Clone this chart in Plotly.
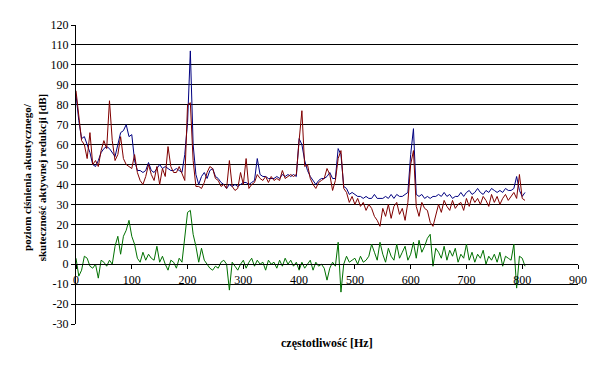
import plotly.graph_objects as go

freq = list(range(0, 806, 5))

blue = [85, 72, 63, 64, 60, 56, 50, 49, 52, 56,
        58, 59, 58, 56, 54, 60, 66, 67, 70, 64,
        65, 52, 47, 47, 46, 47, 51, 47, 46, 48,
        50, 48, 49, 48, 47, 47, 48, 47, 46, 55,
        71, 107, 60, 45, 40, 44, 46, 43, 47, 48,
        44, 43, 41, 40, 38, 40, 39, 40, 39, 40,
        41, 41, 40, 41, 42, 53, 45, 44, 44, 43,
        43, 43, 44, 43, 45, 44, 45, 44, 45, 44,
        63, 60, 52, 47, 44, 42, 40, 42, 43, 43,
        44, 46, 43, 43, 58, 55, 39, 38, 35, 36,
        35, 34, 34, 33, 34, 33, 33, 35, 33, 33,
        33, 34, 33, 35, 33, 35, 34, 34, 35, 36,
        55, 68, 35, 34, 35, 33, 34, 33, 34, 34,
        35, 34, 36, 34, 35, 33, 34, 34, 36, 34,
        36, 37, 35, 36, 38, 36, 35, 37, 36, 38,
        37, 36, 37, 36, 38, 37, 37, 38, 44, 37,
        34, 36]

red = [87, 73, 62, 60, 53, 66, 50, 52, 49, 57,
       62, 58, 82, 62, 52, 55, 64, 53, 50, 49,
       48, 55, 46, 42, 40, 44, 50, 45, 42, 49,
       40, 48, 44, 59, 49, 46, 46, 49, 45, 42,
       80, 81, 52, 39, 39, 38, 41, 46, 49, 48,
       43, 42, 39, 40, 38, 52, 39, 37, 38, 46,
       40, 53, 38, 40, 41, 45, 43, 42, 44, 41,
       44, 42, 43, 42, 47, 43, 44, 45, 44, 45,
       62, 77, 49, 50, 43, 40, 38, 41, 42, 43,
       48, 45, 37, 42, 53, 57, 38, 36, 31, 34,
       30, 33, 29, 31, 27, 30, 28, 24, 22, 19,
       28, 24, 30, 23, 29, 31, 25, 28, 22, 31,
       50, 57, 29, 24, 31, 28, 27, 21, 19, 25,
       30, 26, 32, 29, 27, 32, 28, 30, 31, 27,
       33, 29, 34, 31, 33, 30, 34, 32, 29, 35,
       31, 34, 30, 33, 35, 32, 34, 36, 33, 45,
       33, 32]

green = [3, -6, -3, 4, 3, -1, -2, 0, -7, 2,
         1, -1, 2, 0, 9, 14, 5, 14, 17, 22,
         14, 10, 3, 1, 6, 2, 5, 3, 2, 9,
         1, 4, 0, -3, 2, 1, -2, 3, 1, 15,
         26, 27, 15, 9, 1, 8, 2, 0, -2, -3,
         -1, -2, 1, 2, 0, -13, 1, -1, -3, 0,
         2, -2, 1, 3, -1, 2, 0, 1, -3, 2,
         0, 1, -2, 2, -1, 3, 0, 2, -1, 1,
         -3, 1, -2, 0, 2, -3, 1, -1, 0, -2,
         -8, -2, 1, -1, 11, -14, 0, 4, 1, 2,
         3, 0, 4, 1, 2, 4, 10, 6, 2, 11,
         5, 1, 8, 4, 2, 10, 3, 6, 9, 2,
         5, 11, 3, 12, 6, 9, 13, 15, -1, 8,
         6, 3, 9, 2, 7, 4, 8, 1, 5, 3,
         10, 2, 6, 1, 5, 3, 7, 0, 4, 2,
         5, 1, 6, -1, 4, 3, 2, 10, -12, 4,
         3, -1]

x_ticks = list(range(0, 901, 100))
y_ticks = list(range(-30, 121, 10))
grid_vals = list(range(-20, 111, 10))

x_title = "częstotliwość [Hz]"
y_title = "poziom ciśnienia akustycznego/<br>skuteczność aktywnej redukcji [dB]"

FONT = "Liberation Serif, Times New Roman, serif"

fig = go.Figure()
fig.add_trace(go.Scatter(x=freq, y=green, mode="lines",
                         line=dict(color="#007000", width=1), showlegend=False))
fig.add_trace(go.Scatter(x=freq, y=blue, mode="lines",
                         line=dict(color="#000080", width=1), showlegend=False))
fig.add_trace(go.Scatter(x=freq, y=red, mode="lines",
                         line=dict(color="#800000", width=1), showlegend=False))
fig.add_trace(go.Scatter(x=[None], y=[None], yaxis="y2", showlegend=False, hoverinfo="skip"))

yr = [-30, 120]
zero_pos = (0 - yr[0]) / (yr[1] - yr[0])

fig.update_layout(
    width=604, height=368,
    margin=dict(l=76, r=26, t=25, b=44, autoexpand=False),
    paper_bgcolor="white", plot_bgcolor="white",
    font=dict(family=FONT, size=12, color="black"),
    showlegend=False,
    xaxis=dict(range=[0, 900], tickvals=x_ticks, ticktext=[str(v) for v in x_ticks],
               showgrid=False, zeroline=False, showline=True, linecolor="black",
               linewidth=1, ticks="outside", ticklen=4, tickcolor="black",
               anchor="free", position=zero_pos, automargin=False,
               tickfont=dict(family=FONT, size=12, color="black")),
    yaxis=dict(range=yr, tickvals=y_ticks, ticktext=[str(v) for v in y_ticks],
               showgrid=False, zeroline=False, showline=True, linecolor="black",
               linewidth=1, ticks="outside", ticklen=4, tickcolor="black",
               automargin=False,
               tickfont=dict(family=FONT, size=12, color="black")),
    yaxis2=dict(range=yr, overlaying="y", tickvals=grid_vals, showticklabels=False,
                showgrid=True, gridcolor="black", gridwidth=1, zeroline=False,
                showline=False, ticks="", automargin=False),
    annotations=[
        dict(text="<b>" + x_title + "</b>", xref="paper", yref="paper",
             x=0.5, y=-0.064, xanchor="center", yanchor="middle", showarrow=False,
             font=dict(family=FONT, size=12, color="black")),
        dict(text="<b>" + y_title + "</b>", xref="paper", yref="paper",
             x=-0.082, y=0.49, xanchor="center", yanchor="middle", showarrow=False,
             textangle=-90,
             font=dict(family=FONT, size=11, color="black")),
    ],
)

fig.write_html("out.html", config={"displayModeBar": False},
               post_script="document.body.style.margin='0';document.body.style.overflow='hidden';")
